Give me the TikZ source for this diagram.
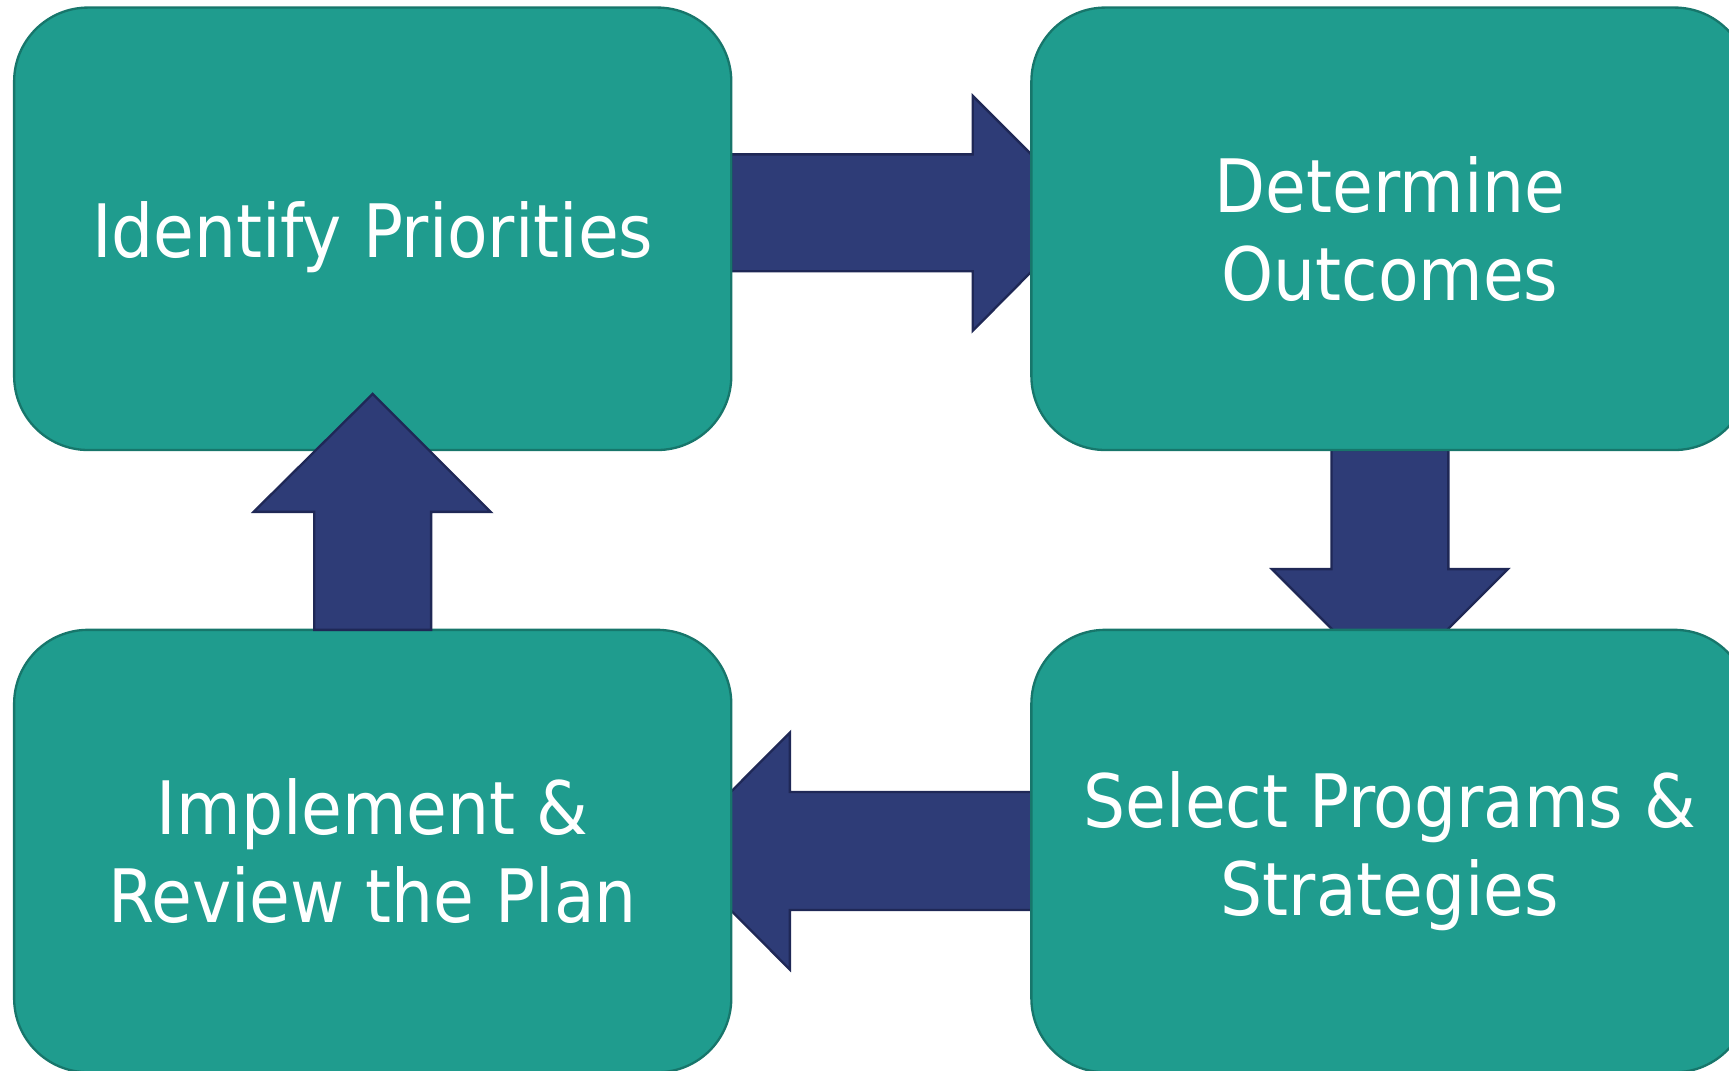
\documentclass[tikz,border=0pt]{standalone}
\usepackage{fontspec}
\setmainfont{DejaVu Sans Condensed}
\usetikzlibrary{positioning,calc}
\definecolor{boxteal}{HTML}{1F9C8E}
\definecolor{boxedge}{HTML}{17766B}
\definecolor{arrowblue}{HTML}{2E3C77}
\definecolor{arrowedge}{HTML}{1F2856}
\pgfdeclarelayer{background}
\pgfsetlayers{background,main}

\begin{document}
\begin{tikzpicture}[x=0.01cm, y=-0.01cm,
        stage/.style={draw=boxedge, fill=boxteal, line width=0.6pt, outer sep=0pt,
            rounded corners=0.67cm, minimum width=6.5cm, minimum height=4.01cm,
            align=center, text=white, font=\fontsize{19}{22.8}\selectfont},
        bigarrow/.style={draw=arrowedge, fill=arrowblue, line width=0.6pt}]
        \useasboundingbox (0,0) rectangle (1568,971);

        \node [stage, text height=19.5pt, text depth=4.5pt] (A) at (338,207.5) {Identify Priorities};
        \node [stage, right=2.72cm of A] (B) {Determine\\Outcomes};
        \node [stage, below=1.63cm of B] (C) {Select Programs \&\\Strategies};
        \node [stage, left=2.72cm of C] (D) {Implement \&\\Review the Plan};

        \begin{pgfonlayer}{background}
        \draw [bigarrow] ($(A.east)+(0,-67.5)$) -- ++(219,0) -- ++(0,-53)
            -- ++(106,106) -- ++(-106,107) -- ++(0,-54) -- ($(A.east)+(0,38.5)$) -- cycle;
        \draw [bigarrow] ($(B.south)+(-53,0)$) -- ++(0,108) -- ++(-54,0)
            -- ++(107,107) -- ++(107,-107) -- ++(-54,0) -- ($(B.south)+(53,0)$) -- cycle;
        \draw [bigarrow] ($(C.west)+(0,-53.5)$) -- ++(-219,0) -- ++(0,-54)
            -- ++(-107,107.5) -- ++(107,107.5) -- ++(0,-54) -- ($(C.west)+(0,53.5)$) -- cycle;
        \end{pgfonlayer}

        \draw [bigarrow] ($(D.north)+(-53,0)$) -- ++(0,-107) -- ++(-55,0)
            -- ++(108,-107) -- ++(107,107) -- ++(-54,0) -- ($(D.north)+(53,0)$) -- cycle;
    \end{tikzpicture}
\end{document}
